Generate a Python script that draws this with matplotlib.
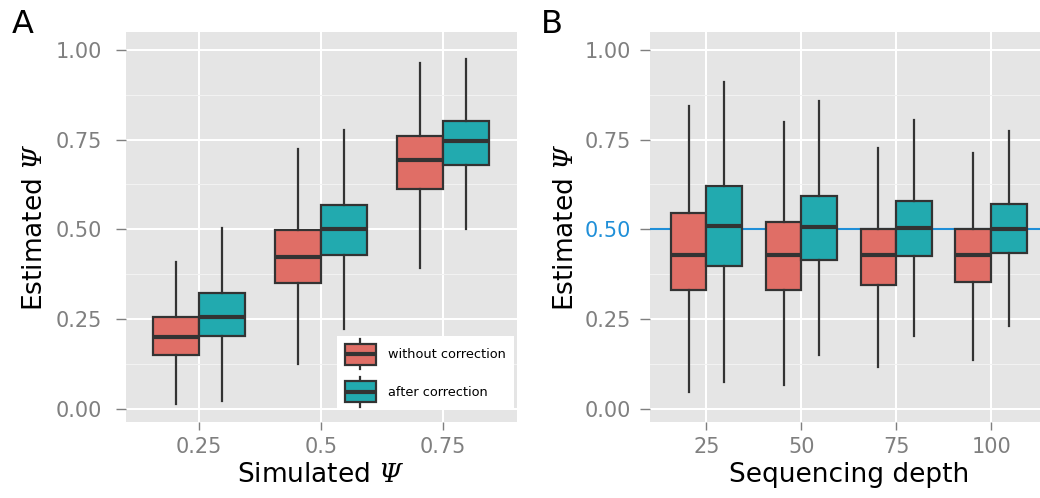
import numpy as np
import matplotlib
matplotlib.use('Agg')
import matplotlib.pyplot as plt
from matplotlib.patches import Patch, Rectangle
from matplotlib.lines import Line2D
from matplotlib.legend_handler import HandlerBase
from matplotlib.ticker import MultipleLocator

# italic serif Psi through mathtext
plt.rcParams['mathtext.fontset'] = 'custom'
plt.rcParams['mathtext.rm'] = 'DejaVu Serif:italic'
plt.rcParams['mathtext.it'] = 'DejaVu Serif:italic'

# Panel A: simulated psi
cats_a = ['0.25', '0.5', '0.75']
wo_a_lo = [0.015, 0.126, 0.391]
wo_a_q1 = [0.149, 0.350, 0.611]
wo_a_med = [0.200, 0.424, 0.692]
wo_a_q3 = [0.256, 0.499, 0.760]
wo_a_hi = [0.410, 0.723, 0.963]
af_a_lo = [0.021, 0.222, 0.500]
af_a_q1 = [0.203, 0.429, 0.680]
af_a_med = [0.257, 0.500, 0.746]
af_a_q3 = [0.324, 0.569, 0.803]
af_a_hi = [0.503, 0.777, 0.974]

# Panel B: sequencing depth
cats_b = ['25', '50', '75', '100']
wo_b_lo = [0.048, 0.066, 0.117, 0.136]
wo_b_q1 = [0.331, 0.331, 0.344, 0.353]
wo_b_med = [0.428, 0.428, 0.428, 0.428]
wo_b_q3 = [0.546, 0.520, 0.500, 0.500]
wo_b_hi = [0.844, 0.799, 0.727, 0.713]
af_b_lo = [0.074, 0.150, 0.204, 0.232]
af_b_q1 = [0.398, 0.416, 0.427, 0.433]
af_b_med = [0.510, 0.506, 0.503, 0.500]
af_b_q3 = [0.620, 0.594, 0.580, 0.571]
af_b_hi = [0.910, 0.857, 0.804, 0.773]

y_ticks = [0.0, 0.25, 0.5, 0.75, 1.0]
y_ticklabels = ['0.00', '0.25', '0.50', '0.75', '1.00']
legend_labels = ['without correction', 'after correction']

RED = '#E06E66'
TEAL = '#22AAAF'
EDGE = '#333333'
BLUE = '#1F8FD8'
GREY = '#7F7F7F'
BG = '#E5E5E5'
LW = 1.6


def make_stats(lo, q1, med, q3, hi):
    return [dict(whislo=a, q1=b, med=c, q3=d, whishi=e, fliers=[])
            for a, b, c, d, e in zip(lo, q1, med, q3, hi)]


class BoxKey(HandlerBase):
    """legend key that looks like a small boxplot"""
    def create_artists(self, legend, orig_handle, xdescent, ydescent,
                       width, height, fontsize, trans):
        x0, y0 = -xdescent, -ydescent
        cx = x0 + width / 2
        whisk = Line2D([cx, cx], [y0 - 0.22 * height, y0 + 1.22 * height],
                       color=EDGE, lw=LW, transform=trans)
        rect = Rectangle((x0, y0), width, height, facecolor=orig_handle.get_facecolor(),
                         edgecolor=EDGE, lw=LW, transform=trans)
        med = Line2D([x0, x0 + width], [y0 + height / 2] * 2, color=EDGE,
                     lw=3.0, solid_capstyle='butt', transform=trans)
        return [whisk, rect, med]


def draw_panel(ax, cats, without, after, ypad):
    pos = np.arange(len(cats))
    for stats, color, shift in [(without, RED, -0.1875), (after, TEAL, 0.1875)]:
        ax.bxp(stats, positions=pos + shift, widths=0.375, patch_artist=True,
               showfliers=False, showcaps=False, manage_ticks=False,
               boxprops=dict(facecolor=color, edgecolor=EDGE, linewidth=LW),
               medianprops=dict(color=EDGE, linewidth=3.0, solid_capstyle='butt'),
               whiskerprops=dict(color=EDGE, linewidth=LW))
    ax.set_facecolor(BG)
    ax.set_axisbelow(True)
    for s in ax.spines.values():
        s.set_visible(False)
    ax.set_xlim(-0.6, len(cats) - 0.4)
    ax.set_ylim(-0.035, 1.048)
    ax.set_xticks(pos)
    ax.set_xticklabels(cats)
    ax.set_yticks(y_ticks)
    ax.set_yticklabels(y_ticklabels)
    ax.yaxis.set_minor_locator(MultipleLocator(0.125))
    ax.grid(which='major', color='white', lw=1.45)
    ax.grid(which='minor', axis='y', color='#F2F2F2', lw=0.8)
    ax.tick_params(which='minor', length=0)
    ax.tick_params(axis='y', which='major', length=7.5, width=1, color=GREY,
                   labelcolor=GREY, labelsize=15, pad=ypad)
    ax.tick_params(axis='x', which='major', length=6, width=1, color=GREY,
                   labelcolor=GREY, labelsize=15, pad=5.5)


fig = plt.figure(figsize=(10.4, 4.98), dpi=100)
W, H = 1040, 498
ax_a = fig.add_axes([125.5 / W, 1 - 421.5 / H, 391 / W, 389 / H])
ax_b = fig.add_axes([649.5 / W, 1 - 421.5 / H, 398.5 / W, 389 / H])

draw_panel(ax_a, cats_a,
           make_stats(wo_a_lo, wo_a_q1, wo_a_med, wo_a_q3, wo_a_hi),
           make_stats(af_a_lo, af_a_q1, af_a_med, af_a_q3, af_a_hi), 9.5)
draw_panel(ax_b, cats_b,
           make_stats(wo_b_lo, wo_b_q1, wo_b_med, wo_b_q3, wo_b_hi),
           make_stats(af_b_lo, af_b_q1, af_b_med, af_b_q3, af_b_hi), 6)

# reference line at 0.5 in panel B
ax_b.axhline(0.5, color=BLUE, lw=1.5, zorder=1.5)
ax_b.get_yticklabels()[2].set_color(BLUE)
ax_b.yaxis.get_major_ticks()[2].tick1line.set_color(BLUE)

ax_a.set_xlabel(r'Simulated $\Psi$', fontsize=19, labelpad=3)
ax_b.set_xlabel('Sequencing depth', fontsize=19, labelpad=3)
ax_a.set_ylabel(r'Estimated $\Psi$', fontsize=19)
ax_b.set_ylabel(r'Estimated $\Psi$', fontsize=19)
ax_a.yaxis.set_label_coords((48 - 125.5) / 391, 0.5)
ax_b.yaxis.set_label_coords((579 - 649.5) / 398.5, 0.5)

fig.text(12 / W, 1 - 9 / H, 'A', fontsize=23, ha='left', va='top')
fig.text(541 / W, 1 - 9 / H, 'B', fontsize=23, ha='left', va='top')

handles = [Patch(facecolor=RED, label=legend_labels[0]),
           Patch(facecolor=TEAL, label=legend_labels[1])]
leg = ax_a.legend(handles=handles, handler_map={Patch: BoxKey()},
                  loc='upper left', bbox_to_anchor=(336.5 / W, 1 - 335.7 / H),
                  bbox_transform=fig.transFigure, borderaxespad=0,
                  fontsize=9.3, handlelength=2.4, handleheight=2.12,
                  labelspacing=1.3, handletextpad=1.0, borderpad=0.62,
                  frameon=True, fancybox=False, framealpha=1)
leg.get_frame().set_facecolor('white')
leg.get_frame().set_edgecolor('none')

fig.savefig('out.png', dpi=100)
